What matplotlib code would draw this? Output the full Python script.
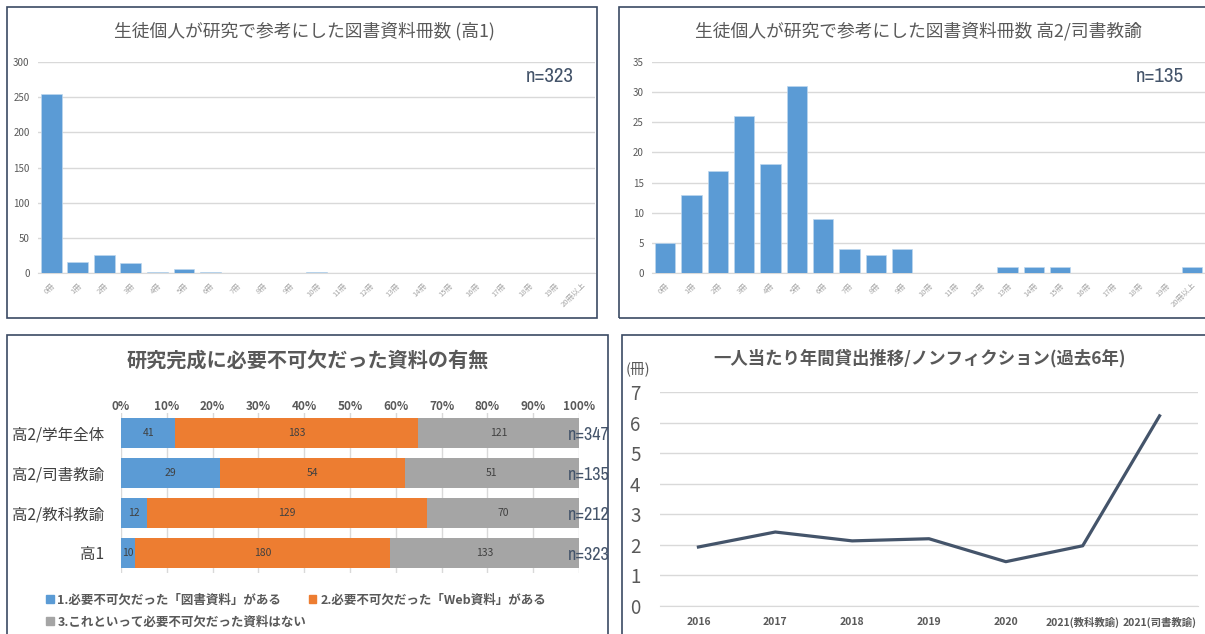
import matplotlib
matplotlib.use('Agg')
import numpy as np
import matplotlib.pyplot as plt
from matplotlib import font_manager
from matplotlib.patches import Rectangle, Patch

plt.rcParams['font.family'] = ['Noto Sans CJK JP', 'DejaVu Sans']

W, H = 1205, 634

# --- data ---
book_cats = ['%d冊' % i for i in range(20)] + ['20冊以上']
grade1_counts = [255, 15, 26, 14, 1, 6, 1, 0, 0, 0, 1, 0, 0, 0, 0, 0, 0, 0, 0, 0, 0]
grade2_lib_counts = [5, 13, 17, 26, 18, 31, 9, 4, 3, 4, 0, 0, 0, 1, 1, 1, 0, 0, 0, 0, 1]

need_groups = ['高2/学年全体', '高2/司書教諭', '高2/教科教諭', '高1']
need_book = [41, 29, 12, 10]
need_web = [183, 54, 129, 180]
need_none = [121, 51, 70, 133]
need_n = [347, 135, 212, 323]
need_legend = ['1.必要不可欠だった「図書資料」がある',
               '2.必要不可欠だった「Web資料」がある',
               '3.これといって必要不可欠だった資料はない']

loan_years = ['2016', '2017', '2018', '2019', '2020', '2021(教科教諭)', '2021(司書教諭)']
loan_per_person = [1.93, 2.42, 2.13, 2.20, 1.45, 1.97, 6.22]

BLUE = '#5B9BD5'
ORANGE = '#ED7D31'
GRAY = '#A5A5A5'
GRID = '#D9D9D9'
TXT = '#595959'
BORDER = '#3B4A63'
NCOL = '#44546A'

# narrow face for the n= labels, if one is installed
narrow = None
for f in font_manager.fontManager.ttflist:
    if ('Narrow' in f.name or 'Condensed' in f.name) and f.style == 'normal':
        narrow = f.name
        break
if narrow:
    NARROW = dict(family=[narrow, 'DejaVu Sans'])
    NSCALE = 1.0
else:
    NARROW = dict(family=['Liberation Sans', 'DejaVu Sans'])
    NSCALE = 0.8

fig = plt.figure(figsize=(W / 100, H / 100), dpi=100)


def px_axes(l, t, r, b):
    return fig.add_axes([l / W, 1 - b / H, (r - l) / W, (b - t) / H])


def px_text(x, y, s, **kw):
    return fig.text(x / W, 1 - y / H, s, **kw)


def panel(l, t, r, b):
    fig.patches.append(Rectangle((l / W, 1 - b / H), (r - l) / W, (b - t) / H,
                                 transform=fig.transFigure, fill=False,
                                 ec=BORDER, lw=1.2))


def clean(ax):
    for s in ['top', 'right', 'left']:
        ax.spines[s].set_visible(False)
    ax.spines['bottom'].set_color(GRID)
    ax.tick_params(length=0)
    ax.set_axisbelow(True)


def hist_panel(ax, counts, ymax, step):
    x = np.arange(len(book_cats))
    ax.bar(x, counts, width=0.78, color=BLUE, ec='#BDD7EE', lw=0.5, zorder=3)
    ax.set_xlim(-0.5, len(book_cats) - 0.5)
    ax.set_ylim(0, ymax)
    ax.set_yticks(np.arange(0, ymax + 1, step))
    ax.yaxis.grid(True, color=GRID, lw=1)
    clean(ax)
    ax.tick_params(axis='y', labelsize=7, labelcolor=TXT, pad=6)
    ax.set_xticks(x)
    ax.set_xticklabels(book_cats, rotation=45, ha='right', rotation_mode='anchor',
                       fontsize=5.5, color='#A6A6A6')
    ax.tick_params(axis='x', pad=6)


# panels
panel(7, 7, 597, 318)
panel(619, 7, 1212, 318)
panel(7, 335, 608, 640)
panel(622, 335, 1212, 640)

# ---- chart 1 ----
ax1 = px_axes(38, 62, 595, 273)
hist_panel(ax1, grade1_counts, 300, 50)
px_text(304, 31, '生徒個人が研究で参考にした図書資料冊数 (高1)', ha='center', va='center',
        fontsize=12.8, color=TXT)
px_text(550, 77, 'n=323', ha='center', va='center', fontsize=15 * NSCALE, color=NCOL, **NARROW)

# ---- chart 2 ----
ax2 = px_axes(652, 62, 1205, 273)
hist_panel(ax2, grade2_lib_counts, 35, 5)
px_text(918, 31, '生徒個人が研究で参考にした図書資料冊数 高2/司書教諭', ha='center', va='center',
        fontsize=12.8, color=TXT)
px_text(1160, 77, 'n=135', ha='center', va='center', fontsize=15 * NSCALE, color=NCOL, **NARROW)

# ---- chart 3 ----
ax3 = px_axes(121, 413, 579, 573)
book = np.array(need_book, float)
web = np.array(need_web, float)
none = np.array(need_none, float)
tot = book + web + none
y = np.arange(len(need_groups))
segs = [(book, BLUE), (web, ORANGE), (none, GRAY)]
left = np.zeros(len(y))
for vals, col in segs:
    pct = vals / tot * 100
    ax3.barh(y, pct, left=left, height=0.75, color=col, zorder=3)
    for yi, l, p, v in zip(y, left, pct, vals):
        ax3.text(l + p / 2, yi, '%d' % v, ha='center', va='center', fontsize=7.5,
                 color='#404040', zorder=4)
    left = left + pct
for yi, n in zip(y, need_n):
    ax3.text(97.5, yi + 0.05, 'n=%d' % n, ha='left', va='center', fontsize=13 * NSCALE,
             color=NCOL, zorder=5, **NARROW)
ax3.set_xlim(0, 100)
ax3.set_ylim(len(y) - 0.5, -0.5)
ax3.set_xticks(np.arange(0, 101, 10))
ax3.set_xticklabels(['%d%%' % v for v in range(0, 101, 10)])
ax3.xaxis.tick_top()
ax3.xaxis.grid(True, color=GRID, lw=1)
for s in ax3.spines.values():
    s.set_visible(False)
ax3.tick_params(length=0)
ax3.tick_params(axis='x', labelsize=8.5, labelcolor=TXT, pad=0)
for t in ax3.get_xticklabels():
    t.set_fontweight('bold')
ax3.set_yticks(y)
ax3.set_yticklabels(need_groups, fontsize=11.2, color='#404040')
ax3.tick_params(axis='y', pad=12)
ax3.set_axisbelow(True)
px_text(308, 360, '研究完成に必要不可欠だった資料の有無', ha='center', va='center',
        fontsize=14.5, fontweight='bold', color=TXT)

hands = [Patch(color=c) for c in (BLUE, ORANGE, GRAY)]
lg1 = fig.legend(hands[:2], need_legend[:2], ncol=2, loc='center left',
                 bbox_to_anchor=(35 / W, 1 - 600 / H), frameon=False,
                 handlelength=0.6, handleheight=0.6, handletextpad=0.3,
                 columnspacing=2.2, prop={'size': 9, 'weight': 'bold'}, labelcolor=TXT)
lg2 = fig.legend(hands[2:], need_legend[2:], loc='center left',
                 bbox_to_anchor=(35 / W, 1 - 622 / H), frameon=False,
                 handlelength=0.6, handleheight=0.6, handletextpad=0.3,
                 prop={'size': 9, 'weight': 'bold'}, labelcolor=TXT)

# ---- chart 4 ----
ax4 = px_axes(660, 392, 1198, 606)
xi = np.arange(len(loan_years))
ax4.plot(xi, loan_per_person, color=NCOL, lw=2.3, solid_joinstyle='round', zorder=3)
ax4.set_xlim(-0.5, len(loan_years) - 0.5)
ax4.set_ylim(0, 7)
ax4.set_yticks(range(0, 8))
ax4.yaxis.grid(True, color=GRID, lw=1)
clean(ax4)
ax4.tick_params(axis='y', labelsize=13.5, labelcolor=TXT, pad=14)
ax4.set_xticks(xi)
ax4.set_xticklabels(loan_years, fontsize=7.5, fontweight='bold', color=TXT)
ax4.tick_params(axis='x', pad=8)
px_text(920, 358, '一人当たり年間貸出推移/ノンフィクション(過去6年)', ha='center', va='center',
        fontsize=12.5, fontweight='bold', color=TXT)
px_text(638, 369, '(冊)', ha='center', va='center', fontsize=10.5, color=TXT)

fig.savefig('out.png', dpi=100)
